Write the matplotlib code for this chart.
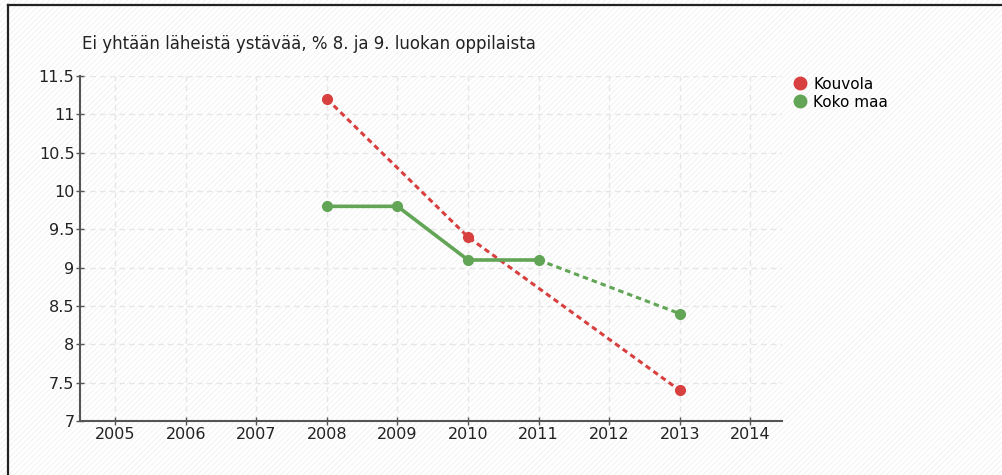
import matplotlib.pyplot as plt
from matplotlib.patches import Rectangle
from matplotlib.lines import Line2D

plt.rcParams["font.family"] = ["DejaVu Sans"]
plt.rcParams["hatch.linewidth"] = 0.6

years = [2005, 2006, 2007, 2008, 2009, 2010, 2011, 2012, 2013, 2014]
kouvola_years = [2008, 2010, 2013]
kouvola_vals = [11.2, 9.4, 7.4]
koko_years = [2008, 2009, 2010, 2011, 2013]
koko_vals = [9.8, 9.8, 9.1, 9.1, 8.4]
yticks = [7, 7.5, 8, 8.5, 9, 9.5, 10, 10.5, 11, 11.5]
ytick_labels = ["7", "7.5", "8", "8.5", "9", "9.5", "10", "10.5", "11", "11.5"]

red = "#d84040"
green = "#62a556"

fig = plt.figure(figsize=(10.02, 4.75), dpi=100)
fig.patch.set_facecolor("white")

# faint diagonal hatch background
bg = Rectangle((0, 0), 1, 1, transform=fig.transFigure, facecolor="white",
               edgecolor="#f0f0f0", hatch="//////", linewidth=0, zorder=-10)
fig.patches.append(bg)

# frame lines at top and left
fig.add_artist(Line2D([8/1002, 1], [1-5/475, 1-5/475], transform=fig.transFigure,
                      color="#222222", linewidth=1.6))
fig.add_artist(Line2D([8/1002, 8/1002], [0, 1-5/475], transform=fig.transFigure,
                      color="#222222", linewidth=1.6))

ax = fig.add_axes([80/1002, 54/475, 702/1002, 345/475])
ax.patch.set_alpha(0)

# Kouvola: only gaps -> whole dashed
ax.plot(kouvola_years, kouvola_vals, color=red, linewidth=2.2, linestyle=(0, (1.8, 1.3)),
        zorder=3)
ax.plot(kouvola_years, kouvola_vals, "o", color=red, markersize=7, zorder=4)

# Koko maa: solid for consecutive years, dashed across gap
ax.plot(koko_years[:4], koko_vals[:4], color=green, linewidth=2.6, zorder=3)
ax.plot(koko_years[3:], koko_vals[3:], color=green, linewidth=2.2, linestyle=(0, (1.8, 1.3)),
        zorder=3)
ax.plot(koko_years, koko_vals, "o", color=green, markersize=7, zorder=4)

ax.set_xlim(2004.5, 2014.45)
ax.set_ylim(7, 11.5)
ax.set_xticks(years)
ax.set_xticklabels([str(y) for y in years])
ax.set_yticks(yticks)
ax.set_yticklabels(ytick_labels)
ax.grid(True, color="#e6e6e6", linestyle=(0, (4, 3)), linewidth=1.0, zorder=0)
for s in ["top", "right"]:
    ax.spines[s].set_visible(False)
for s in ["left", "bottom"]:
    ax.spines[s].set_color("#555555")
    ax.spines[s].set_linewidth(1.5)
ax.tick_params(axis="both", direction="inout", length=6, width=1, color="#555555",
               labelsize=11.5, labelcolor="#222222", pad=1)

fig.text(82/1002, 1-44/475, "Ei yhtään läheistä ystävää, % 8. ja 9. luokan oppilaista",
         fontsize=12, color="#222222", va="center", ha="left")

handles = [Line2D([], [], marker="o", linestyle="none", color=red, markersize=9),
           Line2D([], [], marker="o", linestyle="none", color=green, markersize=9)]
fig.legend(handles, ["Kouvola", "Koko maa"], loc="upper left",
           bbox_to_anchor=(785/1002, 1-69/475), frameon=False, fontsize=11,
           handletextpad=0.35, labelspacing=0.2, handlelength=1.0, borderpad=0)

fig.savefig("out.png", dpi=100)
